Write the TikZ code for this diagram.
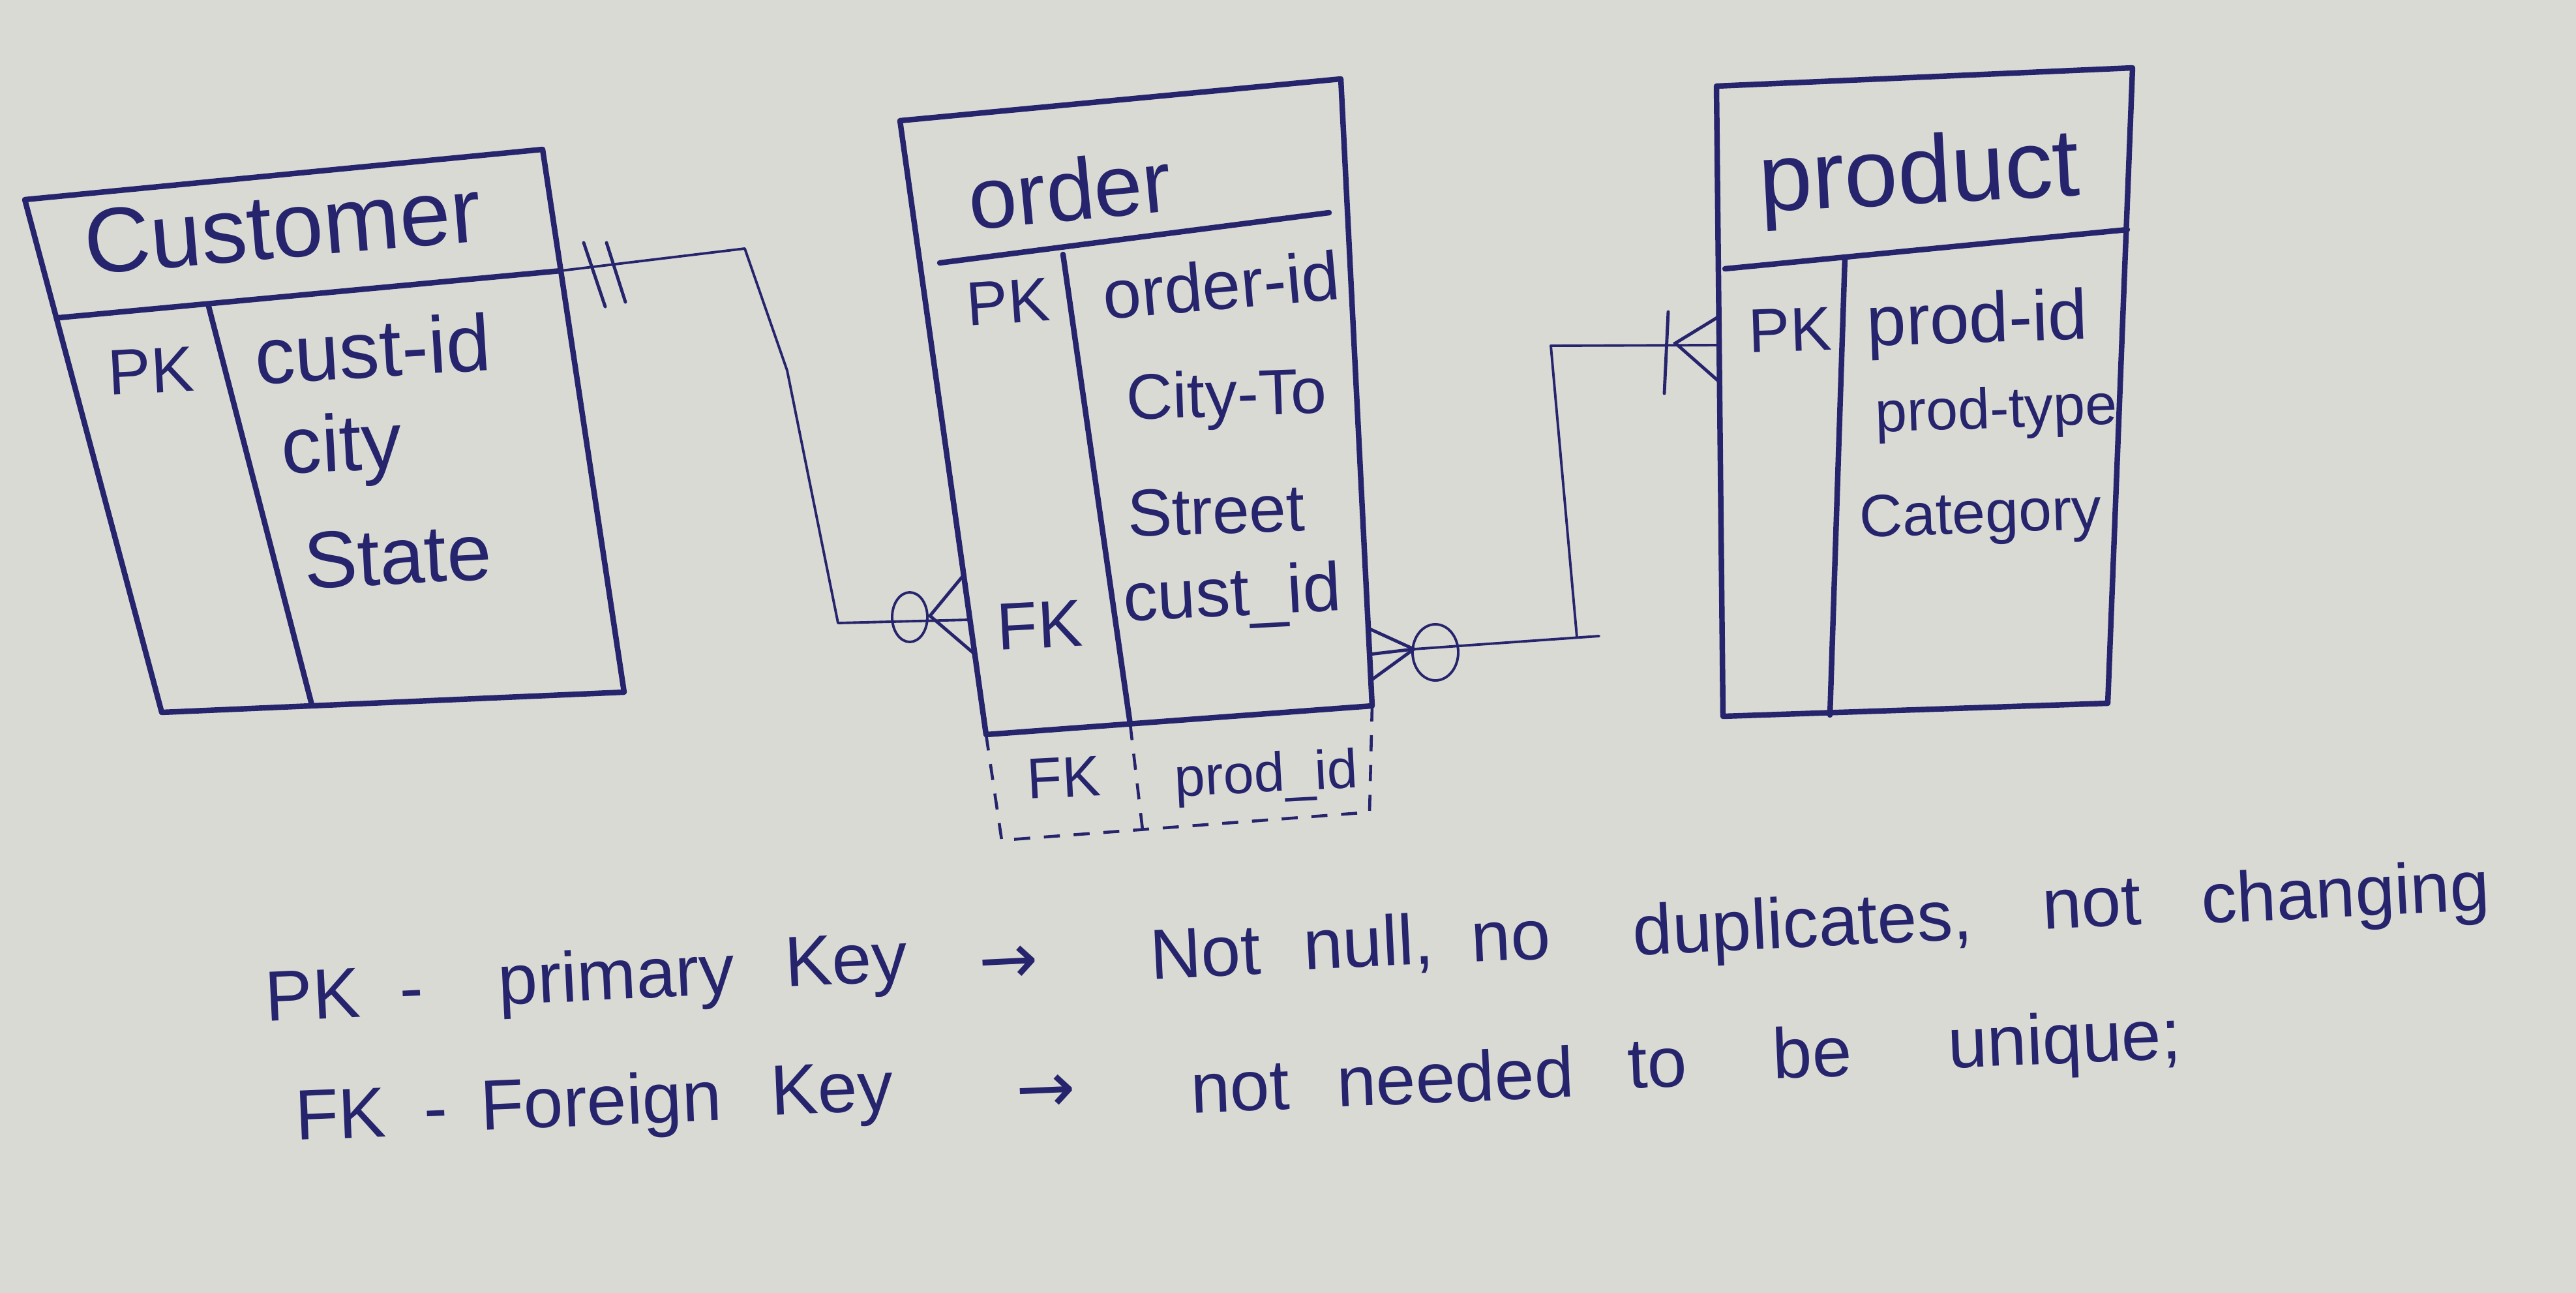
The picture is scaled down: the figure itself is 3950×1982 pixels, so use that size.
\documentclass[tikz,border=0pt]{standalone}
\usepackage{fontspec}
\setmainfont{Liberation Sans}
\newfontfamily\arrowfont{DejaVu Sans}
\usetikzlibrary{shapes.geometric}
\definecolor{paper}{RGB}{217,218,212}
\definecolor{inkc}{RGB}{38,36,108}
\newcommand{\myfs}[1]{\fontsize{#1}{#1}\selectfont}
\tikzset{
  box/.style={draw=inkc, line width=2.4pt, line cap=round, line join=round},
  conn/.style={draw=inkc, line width=1.1pt, line cap=round, line join=round},
  foot/.style={draw=inkc, line width=1.4pt, line cap=round},
  dsh/.style={draw=inkc, line width=1.3pt, dash pattern=on 7pt off 6pt},
  lbl/.style={text=inkc, inner sep=0pt, anchor=base},
  ttl/.style={lbl, font=\myfs{40}},
  legA/.style={lbl, font=\myfs{31}, rotate=2.8},
  legB/.style={lbl, font=\myfs{31}, rotate=2.4},
  ring/.style={ellipse, draw=inkc, line width=1.1pt, inner sep=0pt}
}
\begin{document}
\begin{tikzpicture}[x=0.01cm, y=-0.01cm]
\fill[paper] (0,0) rectangle (3950,1982);
\useasboundingbox (0,0) rectangle (3950,1982);

% ---------- customer ----------
\coordinate (c-tl) at (38,306);
\coordinate (c-tr) at (832,229);
\coordinate (c-br) at (957,1061);
\coordinate (c-bl) at (248,1092);
\coordinate (c-hl) at (90,487);
\coordinate (c-hr) at (860,415);
\coordinate (c-ct) at (319,466);
\coordinate (c-cb) at (478,1080);
\draw[box] (c-tl) -- (c-tr) -- (c-br) -- (c-bl) -- cycle;
\draw[box] (c-hl) -- (c-hr);
\draw[box] (c-ct) -- (c-cb);
\node[ttl, rotate=4.8] (c-title) at (437,395) {Customer};
\node[lbl, font=\myfs{28}, rotate=3] (c-pk) at (233,602) {PK};
\node[lbl, font=\myfs{35}, rotate=3.5] (c-a1) at (574,578) {cust-id};
\node[lbl, font=\myfs{35}, rotate=3] (c-a2) at (526,722) {city};
\node[lbl, font=\myfs{35}, rotate=3] (c-a3) at (612,895) {State};

% ---------- order ----------
\coordinate (o-tl) at (1380,185);
\coordinate (o-tr) at (2056,121);
\coordinate (o-br) at (2104,1082);
\coordinate (o-bl) at (1512,1126);
\coordinate (o-hl) at (1441,403);
\coordinate (o-hr) at (2038,326);
\coordinate (o-ct) at (1630,390);
\coordinate (o-cb) at (1733,1110);
\coordinate (o-xl) at (1536,1288);
\coordinate (o-xr) at (2100,1245);
\coordinate (o-xm) at (1752,1272);
\draw[box] (o-tl) -- (o-tr) -- (o-br) -- (o-bl) -- cycle;
\draw[box] (o-hl) -- (o-hr);
\draw[box] (o-ct) -- (o-cb);
\draw[dsh] (o-bl) -- (o-xl) -- (o-xr) -- (o-br);
\draw[dsh] (o-cb) -- (o-xm);
\node[lbl, font=\myfs{38}, rotate=5.5] (o-title) at (1645,338) {order};
\node[lbl, font=\myfs{27}, rotate=4] (o-pk) at (1548,495) {PK};
\node[lbl, font=\myfs{30}, rotate=5] (o-a1) at (1876,474) {order-id};
\node[lbl, font=\myfs{28}, rotate=2] (o-a2) at (1882,638) {City-To};
\node[lbl, font=\myfs{29}, rotate=2] (o-a3) at (1866,818) {Street};
\node[lbl, font=\myfs{30}, rotate=3] (o-a4) at (1891,944) {cust\_id};
\node[lbl, font=\myfs{29}, rotate=3] (o-fk) at (1596,993) {FK};
\node[lbl, font=\myfs{25}, rotate=3] (o-fk2) at (1633,1222) {FK};
\node[lbl, font=\myfs{24}, rotate=3] (o-a5) at (1943,1214) {prod\_id};

% ---------- product ----------
\coordinate (p-tl) at (2632,132);
\coordinate (p-tr) at (3270,104);
\coordinate (p-br) at (3232,1078);
\coordinate (p-bl) at (2642,1098);
\coordinate (p-hl) at (2645,412);
\coordinate (p-hr) at (3262,352);
\coordinate (p-ct) at (2829,394);
\coordinate (p-cb) at (2806,1096);
\draw[box] (p-tl) -- (p-tr) -- (p-br) -- (p-bl) -- cycle;
\draw[box] (p-hl) -- (p-hr);
\draw[box] (p-ct) -- (p-cb);
\node[lbl, font=\myfs{42}, rotate=3] (p-title) at (2945,312) {product};
\node[lbl, font=\myfs{27}, rotate=2] (p-pk) at (2746,538) {PK};
\node[lbl, font=\myfs{31}, rotate=2] (p-a1) at (3033,525) {prod-id};
\node[lbl, font=\myfs{25}, rotate=2] (p-a2) at (3062,656) {prod-type};
\node[lbl, font=\myfs{26}, rotate=2] (p-a3) at (3038,817) {Category};

% ---------- customer -- order ----------
\coordinate (k1a) at (860,415);
\coordinate (k1b) at (1142,381);
\coordinate (k1c) at (1207,568);
\coordinate (k1d) at (1285,955);
\coordinate (k1e) at (1487,950);
\coordinate (k1j) at (1426,944);
\coordinate (k1u) at (1478,881);
\coordinate (k1l) at (1495,1003);
\draw[conn] (k1a) -- (k1b) -- (k1c) -- (k1d) -- (k1e);
\coordinate (t1a) at (895,372); \coordinate (t1b) at (928,470);
\coordinate (t2a) at (930,372); \coordinate (t2b) at (959,463);
\draw[foot] (t1a) -- (t1b);
\draw[foot] (t2a) -- (t2b);
\node[ring, minimum width=0.54cm, minimum height=0.76cm] (k1o) at (1395,946) {};
\draw[foot] (k1u) -- (k1j) -- (k1l);

% ---------- order -- product ----------
\coordinate (k2j) at (2168,995);
\coordinate (k2u) at (2098,963);
\coordinate (k2m) at (2100,1003);
\coordinate (k2l) at (2102,1043);
\coordinate (k2b) at (2418,977);
\coordinate (k2x) at (2452,975);
\coordinate (k2c) at (2378,530);
\coordinate (k2d) at (2636,529);
\coordinate (k2f) at (2569,526);
\coordinate (k2pu) at (2636,485);
\coordinate (k2pl) at (2636,585);
\coordinate (k2ta) at (2558,478);
\coordinate (k2tb) at (2552,603);
\draw[foot] (k2u) -- (k2j) -- (k2l);
\draw[foot] (k2m) -- (k2j);
\node[ring, minimum width=0.70cm, minimum height=0.86cm] (k2o) at (2201,1000) {};
\draw[conn] (k2j) -- (k2x);
\draw[conn] (k2b) -- (k2c) -- (k2d);
\draw[foot] (k2ta) -- (k2tb);
\draw[foot] (k2pu) -- (k2f) -- (k2pl);

% ---------- legend ----------
\node[legA] (l1a) at (481,1562) {PK};
\node[legA] (l1b) at (633,1552) {-};
\node[legA] (l1c) at (947,1532) {primary};
\node[legA] (l1d) at (1299,1508) {Key};
\node[legA, font=\myfs{31}\arrowfont] (l1e) at (1548,1508) {→};
\node[legA] (l1f) at (1850,1497) {Not};
\node[legA] (l1g) at (2100,1482) {null,};
\node[legA] (l1h) at (2318,1472) {no};
\node[legA] (l1i) at (2766,1452) {duplicates,};
\node[legA] (l1j) at (3209,1421) {not};
\node[legA] (l1k) at (3598,1405) {changing};

\node[legB] (l2a) at (524,1745) {FK};
\node[legB] (l2b) at (670,1736) {-};
\node[legB] (l2c) at (923,1725) {Foreign};
\node[legB] (l2d) at (1277,1706) {Key};
\node[legB, font=\myfs{31}\arrowfont] (l2e) at (1605,1706) {→};
\node[legB] (l2f) at (1903,1703) {not};
\node[legB] (l2g) at (2233,1689) {needed};
\node[legB] (l2h) at (2543,1667) {to};
\node[legB] (l2i) at (2780,1651) {be};
\node[legB] (l2j) at (3167,1630) {unique;};
\end{tikzpicture}
\end{document}
